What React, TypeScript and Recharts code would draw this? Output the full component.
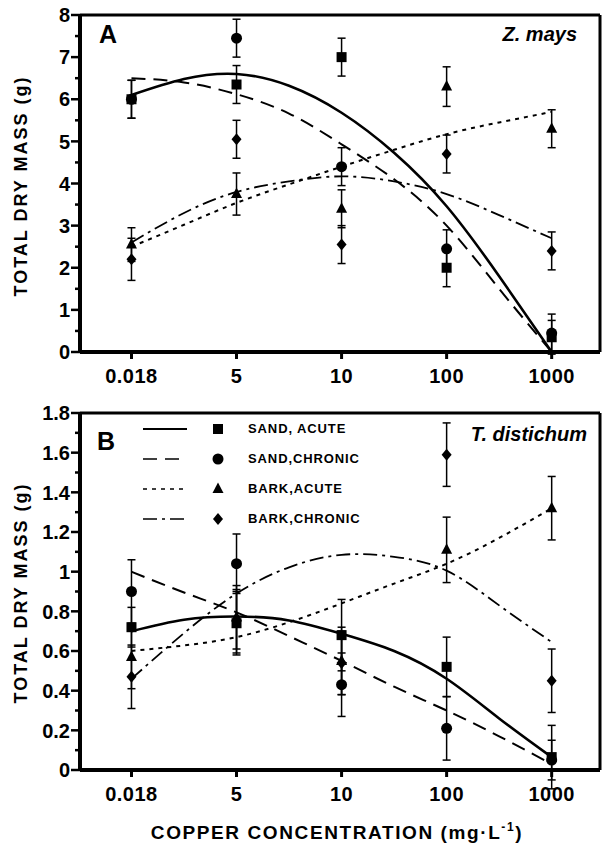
import React from "react";
import {
  ComposedChart,
  Line,
  Scatter,
  ErrorBar,
  XAxis,
  YAxis,
  ReferenceLine,
} from "recharts";

// copper concentration categories (mg/L), evenly spaced on the x axis
const concLabels = ["0.018", "5", "10", "100", "1000"];
const concIndex = [0, 1, 2, 3, 4];
const fitX = [0, 0.5, 1, 1.5, 2, 2.5, 3, 3.5, 4];

// Z. mays means and errors
const sandAcuteA = [6.0, 6.35, 7.0, 2.0, 0.35];
const sandAcuteAErr = [0.45, 0.45, 0.45, 0.45, 0.4];
const sandChronicA = [6.0, 7.45, 4.4, 2.45, 0.45];
const sandChronicAErr = [0.45, 0.45, 0.45, 0.45, 0.45];
const barkAcuteA = [2.55, 3.75, 3.4, 6.3, 5.3];
const barkAcuteAErr = [0.4, 0.5, 0.45, 0.47, 0.45];
const barkChronicA = [2.2, 5.05, 2.55, 4.7, 2.4];
const barkChronicAErr = [0.5, 0.45, 0.45, 0.45, 0.45];

// Z. mays fitted curves
const sandAcuteFitA = [6.1, 6.48, 6.6, 6.32, 5.68, 4.73, 3.46, 1.8, 0];
const sandChronicFitA = [6.5, 6.4, 6.12, 5.66, 4.93, 4.1, 3.0, 1.5, 0];
const barkAcuteFitA = [2.5, 3.02, 3.54, 3.98, 4.4, 4.8, 5.17, 5.45, 5.7];
const barkChronicFitA = [2.6, 3.3, 3.8, 4.05, 4.17, 4.05, 3.75, 3.25, 2.7];

// T. distichum means and errors
const sandAcuteB = [0.72, 0.74, 0.68, 0.52, 0.065];
const sandAcuteBErr = [0.1, 0.16, 0.18, 0.15, 0.16];
const sandChronicB = [0.9, 1.04, 0.43, 0.21, 0.05];
const sandChronicBErr = [0.16, 0.15, 0.16, 0.16, 0.1];
const barkAcuteB = [0.57, 0.77, 0.55, 1.11, 1.32];
const barkAcuteBErr = [0.16, 0.16, 0.17, 0.165, 0.16];
const barkChronicB = [0.47, 0.75, 0.54, 1.59, 0.45];
const barkChronicBErr = [0.16, 0.16, 0.16, 0.16, 0.16];

// T. distichum fitted curves
const sandAcuteFitB = [0.7, 0.758, 0.774, 0.754, 0.687, 0.6, 0.46, 0.26, 0.065];
const sandChronicFitB = [1.0, 0.895, 0.795, 0.675, 0.55, 0.42, 0.3, 0.17, 0.03];
const barkAcuteFitB = [0.6, 0.628, 0.67, 0.745, 0.84, 0.94, 1.04, 1.17, 1.32];
const barkChronicFitB = [0.46, 0.69, 0.89, 1.022, 1.085, 1.075, 1.005, 0.83, 0.645];

const legendNames = ["SAND, ACUTE", "SAND,CHRONIC", "BARK,ACUTE", "BARK,CHRONIC"];

const FONT = "'Liberation Sans', Arial, sans-serif";
const LEFT = 80;
const X_MIN = -0.49;
const X_MAX = 4.46;

const lineStyles = [
  { width: 2.6, dash: undefined },
  { width: 2, dash: "14 8" },
  { width: 2, dash: "4 5" },
  { width: 1.8, dash: "14 5 3 5" },
];

const points = (vals: number[], errs: number[]) =>
  concIndex.map((x, i) => ({ x, y: vals[i], err: errs[i] }));
const curve = (vals: number[]) => fitX.map((x, i) => ({ x, y: vals[i] }));

const SquareDot = (p: any) => <rect x={p.cx - 5} y={p.cy - 5} width={10} height={10} fill="#000" />;
const CircleDot = (p: any) => <circle cx={p.cx} cy={p.cy} r={5.5} fill="#000" />;
const TriangleDot = (p: any) => (
  <polygon points={`${p.cx},${p.cy - 6.5} ${p.cx - 5.5},${p.cy + 4} ${p.cx + 5.5},${p.cy + 4}`} fill="#000" />
);
const DiamondDot = (p: any) => (
  <polygon points={`${p.cx},${p.cy - 6} ${p.cx + 5},${p.cy} ${p.cx},${p.cy + 6} ${p.cx - 5},${p.cy}`} fill="#000" />
);
const shapes = [SquareDot, CircleDot, TriangleDot, DiamondDot];

function YTick(props: any, major: number) {
  const { y, payload } = props;
  const v = payload.value;
  const isMajor = Math.abs(v / major - Math.round(v / major)) < 1e-6;
  return (
    <g>
      <line x1={LEFT - (isMajor ? 9 : 5)} x2={LEFT} y1={y} y2={y} stroke="#000" strokeWidth={2.5} />
      {isMajor && (
        <text x={LEFT - 10} y={y} dy="0.36em" textAnchor="end" fontSize={20} fontWeight="bold" fontFamily={FONT} fill="#000">
          {String(Number(v.toFixed(1)))}
        </text>
      )}
    </g>
  );
}

interface PanelProps {
  height: number;
  bottom: number;
  yMax: number;
  yTicks: number[];
  major: number;
  series: { vals: number[]; errs: number[] }[];
  fits: number[][];
}

function Panel({ height, bottom, yMax, yTicks, major, series, fits }: PanelProps) {
  return (
    <ComposedChart width={603} height={height} margin={{ top: 15, right: 3, left: 20, bottom }}>
      <XAxis
        type="number"
        dataKey="x"
        domain={[X_MIN, X_MAX]}
        ticks={concIndex}
        tickFormatter={(v: number) => concLabels[v]}
        axisLine={{ stroke: "#000", strokeWidth: 4 }}
        tickLine={{ stroke: "#000", strokeWidth: 3 }}
        tickSize={7}
        tickMargin={10}
        height={40}
        tick={{ fill: "#000", fontSize: 20, fontWeight: "bold", fontFamily: FONT, letterSpacing: 0.5 }}
        allowDataOverflow
      />
      <YAxis
        type="number"
        domain={[0, yMax]}
        ticks={yTicks}
        interval={0}
        width={60}
        axisLine={{ stroke: "#000", strokeWidth: 4 }}
        tickLine={false}
        tick={(p: any) => YTick(p, major)}
        allowDataOverflow
      />
      <ReferenceLine y={yMax} stroke="#000" strokeWidth={3} />
      <ReferenceLine x={X_MAX} stroke="#000" strokeWidth={3} />
      {fits.map((f, i) => (
        <Line
          key={`fit${i}`}
          data={curve(f)}
          dataKey="y"
          type="natural"
          stroke="#000"
          strokeWidth={lineStyles[i].width}
          strokeDasharray={lineStyles[i].dash}
          dot={false}
          activeDot={false}
          isAnimationActive={false}
        />
      ))}
      {series.map((s, i) => (
        <Scatter
          key={`pts${i}`}
          data={points(s.vals, s.errs)}
          dataKey="y"
          shape={shapes[i]}
          isAnimationActive={false}
        >
          <ErrorBar dataKey="err" direction="y" width={4} stroke="#000" strokeWidth={1.5} />
        </Scatter>
      ))}
    </ComposedChart>
  );
}

const txt: React.CSSProperties = {
  position: "absolute",
  fontFamily: FONT,
  fontWeight: "bold",
  color: "#000",
  whiteSpace: "nowrap",
};

function LegendBlock() {
  return (
    <div style={{ position: "absolute", left: 140, top: 420 }}>
      {legendNames.map((name, i) => {
        const Shape = shapes[i];
        return (
          <div key={name} style={{ position: "absolute", top: i * 30, left: 0, height: 20, width: 240 }}>
            <svg width={100} height={20} style={{ position: "absolute", left: 0, top: 0 }}>
              <line x1={3} x2={47} y1={9} y2={9} stroke="#000" strokeWidth={lineStyles[i].width * 0.8} strokeDasharray={lineStyles[i].dash} />
              <Shape cx={78} cy={9} />
            </svg>
            <span style={{ ...txt, left: 108, top: 1, fontSize: 13, letterSpacing: 0.9 }}>{name}</span>
          </div>
        );
      })}
    </div>
  );
}

export default function App() {
  const seriesA = [
    { vals: sandAcuteA, errs: sandAcuteAErr },
    { vals: sandChronicA, errs: sandChronicAErr },
    { vals: barkAcuteA, errs: barkAcuteAErr },
    { vals: barkChronicA, errs: barkChronicAErr },
  ];
  const seriesB = [
    { vals: sandAcuteB, errs: sandAcuteBErr },
    { vals: sandChronicB, errs: sandChronicBErr },
    { vals: barkAcuteB, errs: barkAcuteBErr },
    { vals: barkChronicB, errs: barkChronicBErr },
  ];
  const ticksA = Array.from({ length: 17 }, (_, i) => i * 0.5);
  const ticksB = Array.from({ length: 19 }, (_, i) => Number((i * 0.1).toFixed(1)));

  return (
    <div style={{ position: "absolute", left: 0, top: 0, width: 603, height: 844, background: "#fff" }}>
      <div style={{ position: "absolute", left: 0, top: 0 }}>
        <Panel
          height={400}
          bottom={8}
          yMax={8}
          yTicks={ticksA}
          major={1}
          series={seriesA}
          fits={[sandAcuteFitA, sandChronicFitA, barkAcuteFitA, barkChronicFitA]}
        />
      </div>
      <div style={{ position: "absolute", left: 0, top: 398 }}>
        <Panel
          height={446}
          bottom={34}
          yMax={1.8}
          yTicks={ticksB}
          major={0.2}
          series={seriesB}
          fits={[sandAcuteFitB, sandChronicFitB, barkAcuteFitB, barkChronicFitB]}
        />
      </div>

      <span style={{ ...txt, left: 99, top: 20, fontSize: 25 }}>A</span>
      <span style={{ ...txt, right: 26, top: 23, fontSize: 20, fontStyle: "italic" }}>Z. mays</span>
      <span style={{ ...txt, left: 97, top: 427, fontSize: 25 }}>B</span>
      <span style={{ ...txt, right: 16, top: 423, fontSize: 20, fontStyle: "italic" }}>T. distichum</span>
      <LegendBlock />

      <span
        style={{ ...txt, left: 21, top: 186, fontSize: 18, letterSpacing: 2, transform: "translate(-50%, -50%) rotate(-90deg)" }}
      >
        TOTAL DRY MASS (g)
      </span>
      <span
        style={{ ...txt, left: 21, top: 593, fontSize: 18, letterSpacing: 2, transform: "translate(-50%, -50%) rotate(-90deg)" }}
      >
        TOTAL DRY MASS (g)
      </span>
      <span style={{ ...txt, left: 337, top: 832, fontSize: 19, letterSpacing: 1.6, transform: "translate(-50%, -50%)" }}>
        COPPER CONCENTRATION (mg·L<sup style={{ fontSize: 12 }}>-1</sup>)
      </span>
    </div>
  );
}
